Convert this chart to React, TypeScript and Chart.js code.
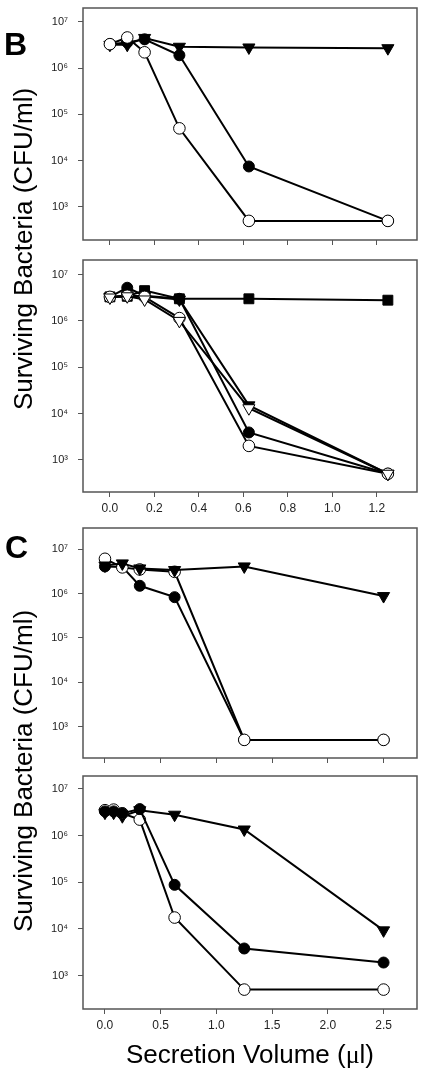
import React, { useEffect, useRef } from "react";
import { Chart, registerables } from "chart.js";

Chart.register(...registerables);

// ---------- data ----------
const xB = [0, 0.078, 0.156, 0.3125, 0.625, 1.25];
const xC3 = [0, 0.156, 0.3125, 0.625, 1.25, 2.5];
const xC4 = [0, 0.078, 0.156, 0.3125, 0.625, 1.25, 2.5];

const xTicksB = [0, 0.2, 0.4, 0.6, 0.8, 1.0, 1.2];
const xTicksC = [0, 0.5, 1.0, 1.5, 2.0, 2.5];
const yTicks = [1e3, 1e4, 1e5, 1e6, 1e7];
const yTickLabels = ["10³", "10⁴", "10⁵", "10⁶", "10⁷"];

// Panel B, top
const b1FilledTri = [3.2e6, 3.2e6, 4.5e6, 2.9e6, 2.8e6, 2.7e6];
const b1FilledCircle = [3.3e6, 3.6e6, 4.2e6, 1.9e6, 7.5e3, 500];
const b1OpenCircle = [3.3e6, 4.6e6, 2.2e6, 5.0e4, 500, 500];

// Panel B, bottom
const b2Square = [3.3e6, 3.4e6, 4.5e6, 3.0e6, 3.0e6, 2.8e6];
const b2FilledTri = [3.3e6, 3.5e6, 3.4e6, 2.9e6, 1.5e4, 500];
const b2OpenTri = [3.2e6, 3.4e6, 2.9e6, 1.0e6, 1.3e4, 500];
const b2FilledCircle = [3.3e6, 5.2e6, 3.5e6, 3.0e6, 3.9e3, 500];
const b2OpenCircle = [3.3e6, 3.5e6, 3.3e6, 1.15e6, 2.0e3, 500];

// Panel C, top
const c3FilledTri = [4.3e6, 4.8e6, 3.7e6, 3.4e6, 4.1e6, 8.8e5];
const c3FilledCircle = [4.1e6, 4.0e6, 1.5e6, 8.3e5, 500, 500];
const c3OpenCircle = [6.1e6, 3.9e6, 3.5e6, 3.1e6, 500, 500];

// Panel C, bottom
const c4FilledTri = [3.1e6, 3.1e6, 2.6e6, 3.5e6, 2.8e6, 1.35e6, 9.3e3];
const c4FilledCircle = [3.3e6, 3.3e6, 3.0e6, 3.7e6, 8.8e4, 3.8e3, 1.9e3];
const c4OpenCircle = [3.5e6, 3.6e6, 3.0e6, 2.2e6, 1.75e4, 500, 500];

// ---------- styling ----------
const FONT = "'Liberation Sans', Arial, Helvetica, sans-serif";
const AXIS_GREY = "#555";

type Marker = "filledTri" | "openTri" | "filledCircle" | "openCircle" | "square";

function markerProps(m: Marker) {
  switch (m) {
    case "filledTri":
      return { pointStyle: "triangle", rotation: 180, pointRadius: 7, pointBackgroundColor: "#000" };
    case "openTri":
      return { pointStyle: "triangle", rotation: 180, pointRadius: 7, pointBackgroundColor: "#fff" };
    case "filledCircle":
      return { pointStyle: "circle", rotation: 0, pointRadius: 5.5, pointBackgroundColor: "#000" };
    case "openCircle":
      return { pointStyle: "circle", rotation: 0, pointRadius: 5.8, pointBackgroundColor: "#fff" };
    case "square":
    default:
      return { pointStyle: "rect", rotation: 0, pointRadius: 7, pointBackgroundColor: "#000" };
  }
}

type Series = { xs: number[]; ys: number[]; marker: Marker };

type PanelDef = {
  top: number;
  height: number;
  boxTop: number;
  boxBottom: number;
  xMin: number;
  xMax: number;
  yMinExp: number;
  yMaxExp: number;
  xTicks: number[];
  showXLabels: boolean;
  series: Series[];
};

const BOX_LEFT = 83;
const BOX_RIGHT = 418;
const W = 425;

// series listed first are drawn on top
const panels: PanelDef[] = [
  {
    top: 0, height: 252, boxTop: 6, boxBottom: 240,
    xMin: -0.121, xMax: 1.381, yMinExp: 2.286, yMaxExp: 7.3,
    xTicks: xTicksB, showXLabels: false,
    series: [
      { xs: xB, ys: b1OpenCircle, marker: "openCircle" },
      { xs: xB, ys: b1FilledCircle, marker: "filledCircle" },
      { xs: xB, ys: b1FilledTri, marker: "filledTri" },
    ],
  },
  {
    top: 252, height: 268, boxTop: 258, boxBottom: 492,
    xMin: -0.121, xMax: 1.381, yMinExp: 2.305, yMaxExp: 7.315,
    xTicks: xTicksB, showXLabels: true,
    series: [
      { xs: xB, ys: b2OpenTri, marker: "openTri" },
      { xs: xB, ys: b2OpenCircle, marker: "openCircle" },
      { xs: xB, ys: b2FilledTri, marker: "filledTri" },
      { xs: xB, ys: b2FilledCircle, marker: "filledCircle" },
      { xs: xB, ys: b2Square, marker: "square" },
    ],
  },
  {
    top: 520, height: 248, boxTop: 524, boxBottom: 758,
    xMin: -0.197, xMax: 2.80, yMinExp: 2.29, yMaxExp: 7.48,
    xTicks: xTicksC, showXLabels: false,
    series: [
      { xs: xC3, ys: c3FilledTri, marker: "filledTri" },
      { xs: xC3, ys: c3OpenCircle, marker: "openCircle" },
      { xs: xC3, ys: c3FilledCircle, marker: "filledCircle" },
    ],
  },
  {
    top: 768, height: 272, boxTop: 774, boxBottom: 1009,
    xMin: -0.197, xMax: 2.80, yMinExp: 2.283, yMaxExp: 7.277,
    xTicks: xTicksC, showXLabels: true,
    series: [
      { xs: xC4, ys: c4FilledCircle, marker: "filledCircle" },
      { xs: xC4, ys: c4OpenCircle, marker: "openCircle" },
      { xs: xC4, ys: c4FilledTri, marker: "filledTri" },
    ],
  },
];

const boxPlugin = {
  id: "boxFrame",
  beforeDatasetsDraw(chart: any) {
    const { ctx, chartArea } = chart;
    ctx.save();
    ctx.strokeStyle = AXIS_GREY;
    ctx.lineWidth = 1.5;
    ctx.strokeRect(chartArea.left, chartArea.top, chartArea.right - chartArea.left, chartArea.bottom - chartArea.top);
    ctx.restore();
  },
};

function Panel({ def }: { def: PanelDef }) {
  const ref = useRef<HTMLCanvasElement | null>(null);
  useEffect(() => {
    if (!ref.current) return;
    const datasets = def.series.map((s) => {
      const mp = markerProps(s.marker);
      return {
        data: s.xs.map((x, i) => ({ x, y: s.ys[i] })),
        borderColor: "#000",
        borderWidth: 2,
        pointBorderColor: "#000",
        pointBorderWidth: 1,
        ...mp,
        fill: false,
        tension: 0,
      };
    });
    const xAxisHeight = def.top + def.height - def.boxBottom;
    const chart = new Chart(ref.current, {
      type: "line",
      data: { datasets } as any,
      plugins: [boxPlugin],
      options: {
        animation: false,
        responsive: false,
        maintainAspectRatio: false,
        events: [],
        layout: {
          padding: { left: 0, right: W - BOX_RIGHT, top: def.boxTop - def.top, bottom: 0 },
        },
        plugins: {
          legend: { display: false },
          tooltip: { enabled: false },
        },
        scales: {
          x: {
            type: "linear",
            min: def.xMin,
            max: def.xMax,
            afterBuildTicks: (scale: any) => {
              scale.ticks = def.xTicks.map((v) => ({ value: v }));
            },
            afterFit: (scale: any) => {
              scale.height = xAxisHeight;
              scale.paddingLeft = 0;
              scale.paddingRight = 0;
              scale.paddingTop = 0;
              scale.paddingBottom = 0;
            },
            ticks: {
              display: def.showXLabels,
              autoSkip: false,
              maxRotation: 0,
              padding: 4,
              color: "#222",
              font: { family: FONT, size: 12 },
              callback: (v: any) => Number(v).toFixed(1),
            },
            grid: {
              display: true,
              drawOnChartArea: false,
              drawTicks: true,
              tickLength: 5,
              color: AXIS_GREY,
              lineWidth: 1,
            },
            border: { display: false },
          },
          y: {
            type: "logarithmic",
            min: Math.pow(10, def.yMinExp),
            max: Math.pow(10, def.yMaxExp),
            afterBuildTicks: (scale: any) => {
              scale.ticks = yTicks.map((v) => ({ value: v }));
            },
            afterFit: (scale: any) => {
              scale.width = BOX_LEFT;
              scale.paddingLeft = 0;
              scale.paddingRight = 0;
              scale.paddingTop = 0;
              scale.paddingBottom = 0;
            },
            ticks: {
              autoSkip: false,
              padding: 10,
              color: "#222",
              font: { family: FONT, size: 11 },
              callback: (v: any) => {
                const idx = yTicks.indexOf(Number(v));
                return idx >= 0 ? yTickLabels[idx] : "";
              },
            },
            grid: {
              display: true,
              drawOnChartArea: false,
              drawTicks: true,
              tickLength: 5,
              color: AXIS_GREY,
              lineWidth: 1,
            },
            border: { display: false },
          },
        },
      } as any,
    });
    return () => chart.destroy();
  }, [def]);
  return (
    <canvas
      ref={ref}
      width={W}
      height={def.height}
      style={{ position: "absolute", left: 0, top: def.top, width: W, height: def.height }}
    />
  );
}

const yTitle = "Surviving Bacteria (CFU/ml)";

export default function App() {
  const titleStyle: React.CSSProperties = {
    position: "absolute",
    fontFamily: FONT,
    fontSize: 26,
    lineHeight: "26px",
    whiteSpace: "nowrap",
    color: "#000",
  };
  const letterStyle: React.CSSProperties = {
    position: "absolute",
    fontFamily: FONT,
    fontSize: 32,
    fontWeight: "bold",
    lineHeight: "32px",
    color: "#000",
  };
  return (
    <div style={{ position: "absolute", left: 0, top: 0, width: W, height: 1071, background: "#fff", overflow: "hidden" }}>
      {panels.map((p, i) => (
        <Panel key={i} def={p} />
      ))}
      <div style={{ ...letterStyle, left: 4, top: 28 }}>B</div>
      <div style={{ ...letterStyle, left: 5, top: 531 }}>C</div>
      <div style={{ ...titleStyle, left: 22.7, top: 249, transform: "translate(-50%, -50%) rotate(-90deg)" }}>{yTitle}</div>
      <div style={{ ...titleStyle, left: 22.7, top: 771, transform: "translate(-50%, -50%) rotate(-90deg)" }}>{yTitle}</div>
      <div style={{ ...titleStyle, left: 250, top: 1041, transform: "translateX(-50%)" }}>
        Secretion Volume (<span style={{ fontFamily: "'Liberation Serif', 'DejaVu Serif', serif" }}>μ</span>l)
      </div>
    </div>
  );
}
